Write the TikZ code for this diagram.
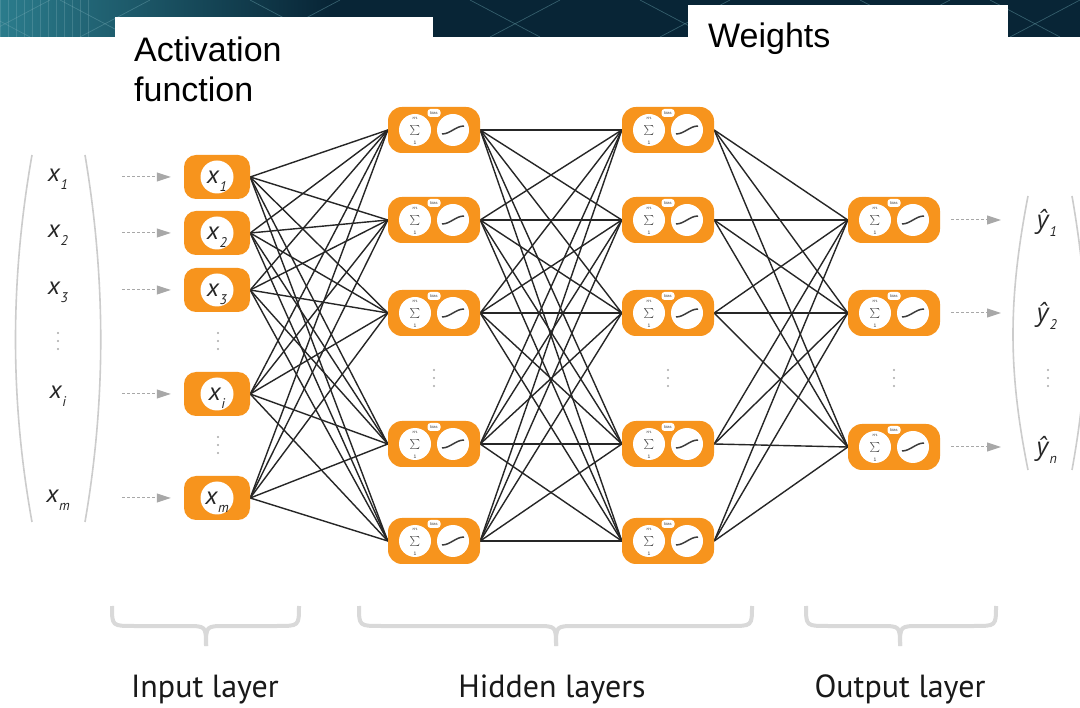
\documentclass[tikz,border=0pt]{standalone}
\usepackage{fontspec}
\setmainfont{Liberation Sans}
\newfontfamily\labfont{PT Sans}
\newfontfamily\yfont{Open Sans}
\usetikzlibrary{arrows.meta,calc,backgrounds}

\definecolor{neuron}{HTML}{F7941D}
\definecolor{wirec}{HTML}{262626}
\definecolor{softgray}{HTML}{D9D9D9}
\definecolor{parengray}{HTML}{CCCCCC}
\definecolor{arrgray}{HTML}{A8A8A8}
\definecolor{navy}{HTML}{082536}
\definecolor{tealb}{HTML}{2B7C8C}
\definecolor{symc}{HTML}{3C3C3C}

% italic variable with a lowered italic index (index kept out of the box height)
\newcommand\xsub[2]{\textit{#1}\smash{\raisebox{-8pt}{\fontsize{14}{14}\selectfont\textit{#2}}}}

\begin{document}
\begin{tikzpicture}[x=1pt,y=-1pt,
  wire/.style={wirec, line width=1.4pt},
  inbox/.style={fill=neuron, rounded corners=12pt, minimum width=66pt, minimum height=44pt, inner sep=0},
  hidbox/.style={fill=neuron, rounded corners=14pt, minimum width=92pt, minimum height=46pt, inner sep=0},
  incirc/.style={circle, fill=white, minimum size=33pt, inner sep=0, text=black!85,
    font=\labfont\fontsize{25}{25}\selectfont},
  sumcirc/.style={circle, fill=white, minimum size=32pt, inner sep=0},
  sumsign/.style={inner sep=0, text=symc, font=\fontsize{14}{14}\selectfont},
  sumlim/.style={inner sep=0, text=symc, font=\fontsize{5}{5}\selectfont},
  actcirc/.style={circle, fill=white, minimum size=32pt, inner sep=0},
  sigline/.style={symc, line width=1.5pt},
  biaspill/.style={fill=white, rounded corners=3pt, minimum width=13pt, minimum height=8pt,
    inner sep=0, text=symc, font=\fontsize{4}{4}\selectfont},
  veclab/.style={inner sep=0, text=black!85, font=\labfont\fontsize{25}{25}\selectfont},
  darr/.style={arrgray, line width=1pt, dash pattern=on 3pt off 2pt,
    -{Triangle[length=14pt,width=9pt]}},
  paren/.style={parengray, line width=1.6pt},
  bracestyle/.style={softgray, line width=4pt},
  laytext/.style={inner sep=0, anchor=base, text=black!90, font=\labfont\fontsize{32}{32}\selectfont},
  toptext/.style={inner sep=0, anchor=base west, font=\fontsize{34}{40}\selectfont},
  innode/.pic={
    \node[inbox] (-box) at (0,0) {};
    \node[incirc] (-lab) at (0,0) {#1};
  },
  hidnode/.pic={
    \node[hidbox] (-box) at (0,0) {};
    \node[sumcirc] (-sum) at (-19,0) {};
    \node[sumsign] (-sig) at (-19,1) {$\sum$};
    \node[sumlim] (-top) at (-19,-11.5) {$m$};
    \node[sumlim] (-bot) at (-19,12.5) {1};
    \node[actcirc] (-act) at (19,0) {};
    \draw[sigline] (8,4) .. controls (16,4) and (22,-4) .. (30,-4);
    \node[biaspill] (-bias) at (0,-17) {bias};
  }
]
\useasboundingbox (0,0) rectangle (1080,708);

% ---- banner strip ----
\shade[left color=tealb, right color=navy] (0,0) rectangle (330,37);
\fill[navy] (330,0) rectangle (1080,37);
\begin{scope}
  \clip (0,0) rectangle (1080,37);
  \foreach \s in {-40,60,250,470,640,860,990}{
    \draw[tealb!70, opacity=.45, line width=.7pt] (\s,0) -- ++(70,37);
    \draw[tealb!70, opacity=.45, line width=.7pt] (\s+90,0) -- ++(-70,37);
  }
  \foreach \s in {0,8,...,90}{
    \draw[tealb!50!white, opacity=.25, line width=.4pt] (\s,0) -- ++(0,37);
  }
\end{scope}
\fill[white] (115,17) rectangle (433,40);
\fill[white] (688,5) rectangle (1008,40);

\node[toptext] (act1) at (134,62) {Activation};
\node[toptext] (act2) at (134,102) {function};
\node[toptext] (wts) at (708,48) {Weights};

% ---- input layer ----
\pic (i1) at (217,177) {innode={\xsub{x}{1}}};
\pic (i2) at (217,233) {innode={\xsub{x}{2}}};
\pic (i3) at (217,290) {innode={\xsub{x}{3}}};
\pic (ii) at (217,394) {innode={\xsub{x}{i}}};
\pic (im) at (217,498) {innode={\xsub{x}{m}}};

% ---- hidden layers ----
\foreach \c/\x in {a/434,b/668}{
  \pic (h\c1) at (\x,130) {hidnode};
  \pic (h\c2) at (\x,220) {hidnode};
  \pic (h\c3) at (\x,313) {hidnode};
  \pic (h\c4) at (\x,444) {hidnode};
  \pic (h\c5) at (\x,541) {hidnode};
}

% ---- output layer ----
\pic (o1) at (894,220) {hidnode};
\pic (o2) at (894,313) {hidnode};
\pic (o3) at (894,447) {hidnode};

% ---- weights ----
\begin{scope}[on background layer]
  \fill[white] (0,37) rectangle (1080,708);
  \fill[white] (115,17) rectangle (433,40);
  \fill[white] (688,5) rectangle (1008,40);
  \foreach \a in {i1,i2,i3,ii,im}{
    \foreach \b in {ha1,ha2,ha3,ha4,ha5}{
      \draw[wire] (\a-box.east) -- (\b-box.west);
    }
  }
  \foreach \a in {ha1,ha2,ha3,ha4,ha5}{
    \foreach \b in {hb1,hb2,hb3,hb4,hb5}{
      \draw[wire] (\a-box.east) -- (\b-box.west);
    }
  }
  \foreach \a in {hb1,hb2,hb3,hb4,hb5}{
    \foreach \b in {o1,o2,o3}{
      \draw[wire] (\a-box.east) -- (\b-box.west);
    }
  }
\end{scope}

% ---- input vector ----
\draw[paren] (32,155) .. controls (10,280) and (10,400) .. (32,522);
\draw[paren] (85,155) .. controls (106,280) and (106,400) .. (85,522);
\node[veclab] (v1) at (58,175) {\xsub{x}{1}};
\node[veclab] (v2) at (58,231) {\xsub{x}{2}};
\node[veclab] (v3) at (58,288) {\xsub{x}{3}};
\node[veclab] (vi) at (58,392) {\xsub{x}{i}};
\node[veclab] (vm) at (58,496) {\xsub{x}{m}};
\foreach \a/\b in {v1/i1,v2/i2,v3/i3,vi/ii,vm/im}{
  \draw[darr, shorten <=64pt, shorten >=13pt] (\b-box.west -| \a) -- (\b-box.west);
}

% ---- output vector ----
\draw[paren] (1028,196) .. controls (1008,300) and (1008,370) .. (1028,470);
\draw[paren] (1072,196) .. controls (1090,300) and (1090,370) .. (1072,470);
\node[veclab] (y1) at (1047,222) {\xsub{\yfont ŷ}{1}};
\node[veclab] (y2) at (1047,315) {\xsub{\yfont ŷ}{2}};
\node[veclab] (yn) at (1047,449) {\xsub{\yfont ŷ}{n}};
\foreach \a/\b in {o1/y1,o2/y2,o3/yn}{
  \draw[darr, shorten <=11pt, shorten >=46pt] (\a-box.east) -- (\a-box.east -| \b);
}

% ---- vertical ellipses ----
\foreach \px/\py in {58/341,218/341,218/445,434/378,668/378,894/378,1048/378}{
  \foreach \d in {-8,0,8}{
    \fill[arrgray] (\px,\py+\d) circle (1.1);
  }
}

% ---- layer braces ----
\foreach \l/\m/\r in {112/206/299,359/556/752,806/900/996}{
  \draw[bracestyle] (\l,606) .. controls (\l,626) .. (\l+22,626) -- (\m-20,626)
     .. controls (\m,626) .. (\m,646);
  \draw[bracestyle] (\r,606) .. controls (\r,626) .. (\r-22,626) -- (\m+20,626)
     .. controls (\m,626) .. (\m,646);
}
\node[laytext] (lin) at (205,697) {Input layer};
\node[laytext] (lhid) at (552,697) {Hidden layers};
\node[laytext] (lout) at (900,697) {Output layer};
\end{tikzpicture}
\end{document}
